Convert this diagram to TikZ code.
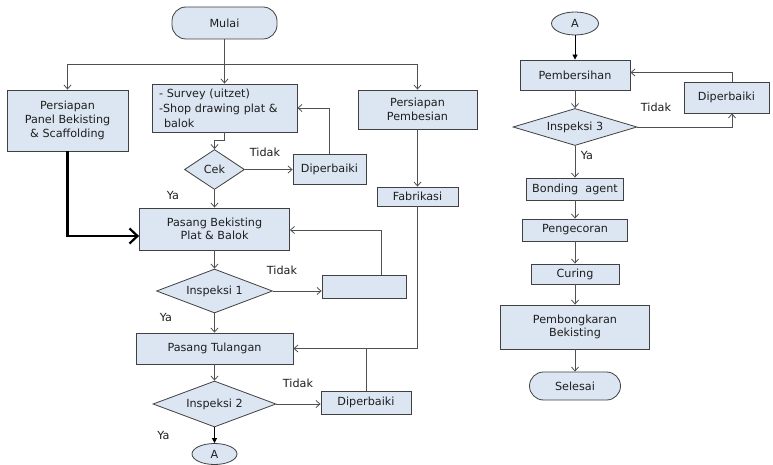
\documentclass[tikz,border=0pt]{standalone}
\usepackage{fontspec}
\setmainfont{DejaVu Sans}
\usetikzlibrary{arrows.meta,shapes.geometric}
\definecolor{boxfill}{RGB}{220,230,242}
\definecolor{boxline}{RGB}{64,64,64}
\definecolor{conn}{RGB}{80,80,80}
\definecolor{txt}{RGB}{30,30,30}
\tikzset{
  base/.style={draw=boxline, fill=boxfill, line width=0.8pt, text=txt, inner sep=0pt, align=center,
    font=\fontsize{11.2}{13.6}\selectfont},
  box/.style={base, rectangle},
  term/.style={base, rectangle, rounded corners=14pt},
  dia/.style={base, diamond},
  oval/.style={base, ellipse},
  lbl/.style={text=txt, inner sep=0pt, font=\fontsize{11.2}{13.6}\selectfont},
  arr/.style={draw=conn, line width=0.8pt, -{Straight Barb[length=4pt,width=7pt]}},
  farr/.style={draw=black, line width=0.8pt, -{Triangle[length=5pt,width=5pt]}},
  plain/.style={draw=conn, line width=0.8pt},
  bigarr/.style={draw=black, line width=2.2pt, -{Straight Barb[length=8pt,width=15pt]}}
}
\begin{document}
\begin{tikzpicture}[x=1pt,y=-1pt]
\fill[white] (0,0) rectangle (773,465);
\useasboundingbox (0,0) rectangle (773,465);
% left part
\node[term, minimum width=105pt, minimum height=32pt] (mulai) at (224.5,23) {Mulai};
\node[box, minimum width=121pt, minimum height=61pt] (panel) at (67.5,120.5) {Persiapan\\Panel Bekisting\\\& Scaffolding};
\node[box, minimum width=145pt, minimum height=48pt, text width=131pt, align=left, inner xsep=7pt,
  font=\fontsize{11.2}{15}\selectfont] (survey) at (224.5,108)
  {- Survey (uitzet)\\-Shop drawing plat \&\\\hspace*{5pt}balok};
\node[box, minimum width=119pt, minimum height=39pt] (pemb) at (417.5,109.5) {Persiapan\\Pembesian};
\node[dia, aspect=1.5, minimum width=60pt, minimum height=40pt] (cek) at (214.5,169.5) {Cek};
\node[box, minimum width=73pt, minimum height=30pt] (dip1) at (329.5,169.5) {Diperbaiki};
\node[box, minimum width=81pt, minimum height=19pt] (fab) at (417.5,196.5) {Fabrikasi};
\node[box, minimum width=150pt, minimum height=42pt] (pasang1) at (214.5,229) {Pasang Bekisting\\Plat \& Balok};
\node[dia, aspect=2.64, minimum width=116pt, minimum height=44pt] (insp1) at (214.5,291) {Inspeksi 1};
\node[box, minimum width=84pt, minimum height=23pt] (empty) at (364,286.5) {};
\node[box, minimum width=157pt, minimum height=31pt] (pasang2) at (214.5,348.5) {Pasang Tulangan};
\node[dia, aspect=2.67, minimum width=123pt, minimum height=46pt] (insp2) at (214.5,404) {Inspeksi 2};
\node[box, minimum width=90pt, minimum height=23pt] (dip2) at (366,402.5) {Diperbaiki};
\node[oval, minimum width=45pt, minimum height=21pt] (a1) at (214.5,454) {A};
% labels left
\node[lbl] (t1) at (265,152) {Tidak};
\node[lbl] (y1) at (173,195) {Ya};
\node[lbl] (t2) at (282,270) {Tidak};
\node[lbl] (y2) at (166,317) {Ya};
\node[lbl] (t3) at (298,383) {Tidak};
\node[lbl] (y3) at (163.5,435) {Ya};
% right part
\node[oval, minimum width=47pt, minimum height=23pt] (a2) at (575,23.5) {A};
\node[box, minimum width=110pt, minimum height=30pt] (bersih) at (575,75) {Pembersihan};
\node[dia, aspect=3.35, minimum width=124pt, minimum height=37pt] (insp3) at (575,127) {Inspeksi 3};
\node[box, minimum width=85pt, minimum height=31pt] (dip3) at (726.5,97.5) {Diperbaiki};
\node[box, minimum width=97pt, minimum height=22pt] (bond) at (575,189) {Bonding\ \ agent};
\node[box, minimum width=105pt, minimum height=22pt] (cor) at (575,230) {Pengecoran};
\node[box, minimum width=88pt, minimum height=20pt] (cur) at (575,274) {Curing};
\node[box, minimum width=149pt, minimum height=44pt] (bongkar) at (575,327) {Pembongkaran\\Bekisting};
\node[term, minimum width=91pt, minimum height=28pt] (selesai) at (575,386) {Selesai};
\node[lbl] (t4) at (656,107) {Tidak};
\node[lbl] (y4) at (587,155) {Ya};
% connectors left
\coordinate (sp) at (224.5,64);
\draw[arr] (mulai) -- (survey);
\draw[plain] (sp -| panel.north) -- (sp -| pemb.north);
\draw[arr] (sp) -| (panel.north);
\draw[arr] (sp) -| (pemb.north);
\draw[arr] (survey.south) -- ++(0,8) -| (cek.north);
\draw[arr] (cek) -- (dip1);
\draw[arr] (dip1.north) |- (survey.east);
\draw[arr] (cek) -- (pasang1);
\draw[bigarr] (panel.south) |- ([yshift=-7pt]pasang1.west);
\draw[arr] (pasang1) -- (insp1);
\draw[arr] (insp1.east) -- (insp1.east -| empty.west);
\draw[arr] ([xshift=17pt]empty.north) |- ([yshift=-1pt]pasang1.east);
\draw[arr] (insp1) -- (pasang2);
\draw[arr] (pemb) -- (fab);
\draw[arr] (fab.south) |- (pasang2.east);
\draw[plain] (dip2.north) -- (dip2.north |- pasang2.east);
\draw[arr] (pasang2) -- (insp2);
\draw[arr] (insp2.east) -- (insp2.east -| dip2.west);
\draw[farr] (insp2) -- (a1);
% connectors right
\draw[farr] (a2) -- (bersih);
\draw[arr] (bersih) -- (insp3);
\draw[arr] (insp3.east) -| ([xshift=5.5pt]dip3.south);
\draw[arr] ([xshift=5.5pt]dip3.north) |- ([yshift=2.5pt]bersih.east);
\draw[arr] (insp3) -- (bond);
\draw[arr] (bond) -- (cor);
\draw[arr] (cor) -- (cur);
\draw[arr] (cur) -- (bongkar);
\draw[arr] (bongkar) -- (selesai);
\end{tikzpicture}
\end{document}
